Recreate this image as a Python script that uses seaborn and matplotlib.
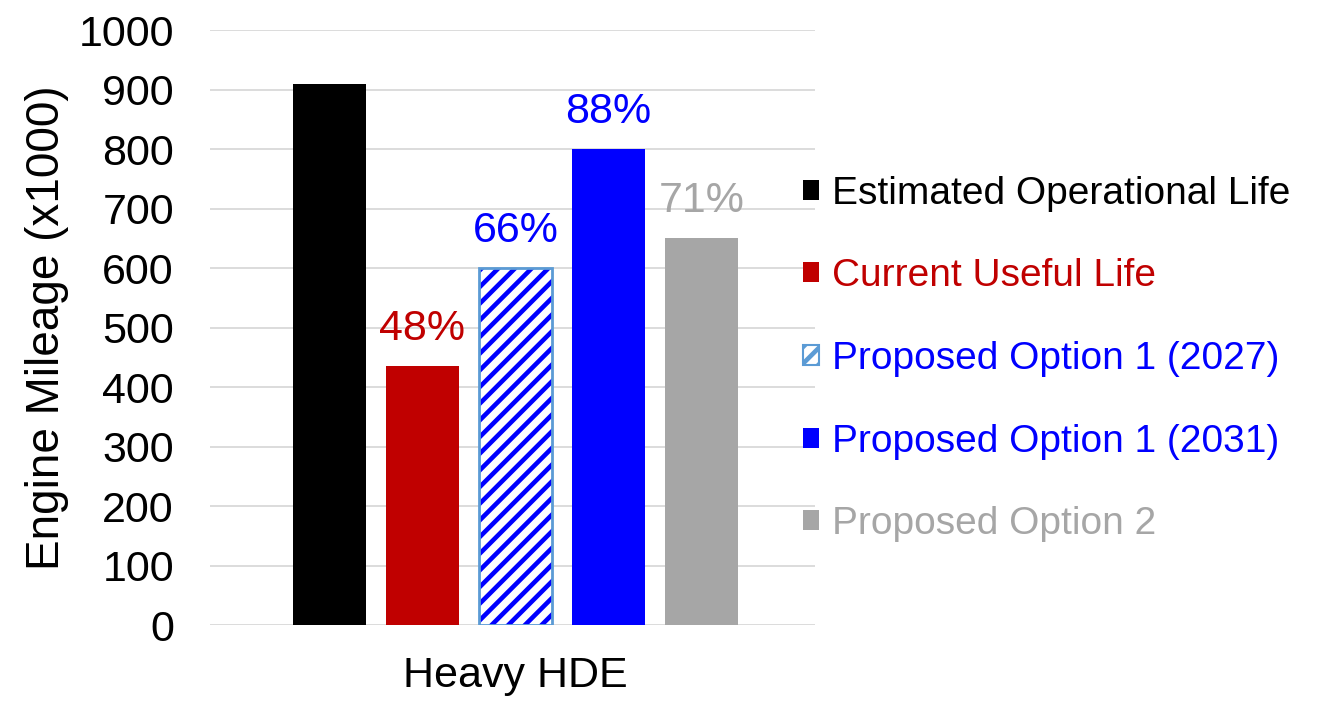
import matplotlib
matplotlib.use("Agg")
import matplotlib.pyplot as plt
import seaborn as sns
import pandas as pd
from matplotlib.patches import Patch

category = ["Heavy HDE"]
series = ["Estimated Operational Life", "Current Useful Life",
          "Proposed Option 1 (2027)", "Proposed Option 1 (2031)", "Proposed Option 2"]
values = [910, 435, 600, 800, 650]
pct_labels = ["", "48%", "66%", "88%", "71%"]
colors = ["#000000", "#C00000", "#FFFFFF", "#0000FF", "#A6A6A6"]
text_colors = ["#000000", "#C00000", "#0000FF", "#0000FF", "#A6A6A6"]
yticks = [0, 100, 200, 300, 400, 500, 600, 700, 800, 900, 1000]

sns.set_theme(style="white")
plt.rcParams['font.family'] = ['Liberation Sans', 'DejaVu Sans']
plt.rcParams['hatch.linewidth'] = 3.3

df = pd.DataFrame({"cat": category * len(series), "series": series, "value": values})

fig = plt.figure(figsize=(13.25, 7.01), dpi=100)
ax = fig.add_axes([0.1585, 0.1084, 0.4566, 0.8486])

sns.barplot(data=df, x="cat", y="value", hue="series", hue_order=series,
            palette=colors, gap=0.215, width=0.8, ax=ax, legend=False,
            saturation=1, edgecolor="none", linewidth=0)

bars = [p for p in ax.patches]
hb = bars[2]
hb.set_facecolor("white")
hb.set_edgecolor("#0000FF")
hb.set_hatch("//")
hb.set_linewidth(0)
ax.bar(hb.get_x() + hb.get_width() / 2, hb.get_height(), width=hb.get_width(),
       bottom=hb.get_y(), fill=False, edgecolor="#5B9BD5", linewidth=2, zorder=3)

for b, lab, c in zip(bars, pct_labels, text_colors):
    if lab:
        ax.annotate(lab, (b.get_x() + b.get_width() / 2, b.get_height()),
                    xytext=(0, 19), textcoords="offset points", ha="center",
                    va="baseline", fontsize=31, color=c)

ax.set_ylim(0, 1000)
ax.set_xlim(-0.525, 0.515)
ax.set_yticks(yticks)
ax.yaxis.grid(True, color="#D9D9D9", linewidth=1.3)
ax.set_axisbelow(True)
for s in ax.spines.values():
    s.set_visible(False)
ax.tick_params(axis="y", labelsize=31, pad=26, length=0, labelcolor="black")
ax.tick_params(axis="x", labelsize=31, pad=22, length=0, labelcolor="black")
ax.set_xlabel("")
ax.set_ylabel("Engine Mileage (x1000)", fontsize=33, labelpad=7, color="black")

handles = []
for i, s in enumerate(series):
    if i == 2:
        handles.append(Patch(facecolor="white", edgecolor="#5B9BD5", hatch="//", linewidth=1.5))
    else:
        handles.append(Patch(facecolor=colors[i], edgecolor="none"))
leg = fig.legend(handles, series, loc="center left", bbox_to_anchor=(0.591, 0.488),
                 frameon=False, fontsize=28, labelcolor=text_colors,
                 handlelength=0.42, handleheight=0.42, handletextpad=0.35,
                 labelspacing=1.2, borderpad=0)

fig.savefig("out.png", dpi=100)
